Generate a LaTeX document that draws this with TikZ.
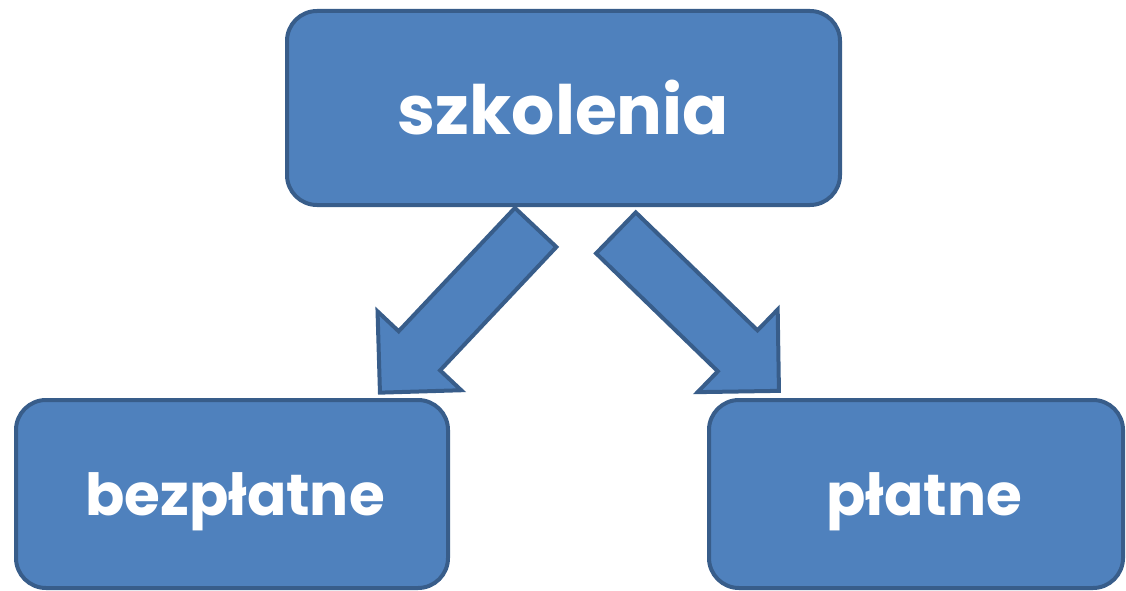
\documentclass[tikz,border=0pt]{standalone}
\usepackage{fontspec}
\setmainfont{Poppins}
\usetikzlibrary{shapes.arrows}

\definecolor{boxfill}{HTML}{4F81BD}
\definecolor{boxline}{HTML}{385D8A}

\tikzset{
    topic/.style={draw=boxline, fill=boxfill, line width=4pt, rounded corners=30pt,
        text=white, inner sep=0pt},
    headtext/.style={font=\bfseries\fontsize{68}{76}\selectfont},
    subtext/.style={font=\bfseries\fontsize{58}{66}\selectfont, text depth=0pt},
    bigarrow/.style={single arrow, draw=boxline, fill=boxfill, line width=4pt,
        minimum height=227pt, inner xsep=0pt, inner ysep=26.5pt,
        single arrow head extend=29pt, anchor=tail}
}

\begin{document}
\begin{tikzpicture}[x=1pt, y=-1pt]
    \useasboundingbox (0,0) rectangle (1126,591);
    % the two block arrows under the boxes
    \node [bigarrow, rotate=226.7] (tofree) at (537,226) {};
    \node [bigarrow, rotate=-44.1] (topaid) at (614.5,231.5) {};
    % boxes
    \node [topic, headtext, minimum width=553pt, minimum height=194pt] (training) at (563.5,108) {szkolenia};
    \node [topic, subtext, minimum width=432pt, minimum height=188pt] (free) at (232,494) {\hspace{6pt}bezpłatne};
    \node [topic, subtext, minimum width=414pt, minimum height=188pt] (paid) at (916,494) {\hspace{16pt}płatne};
\end{tikzpicture}
\end{document}
